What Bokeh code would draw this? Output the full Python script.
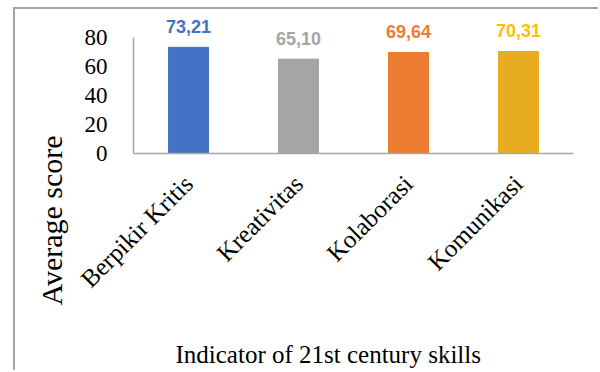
import math
from bokeh.plotting import figure
from bokeh.models import Range1d, FactorRange, FixedTicker, Title
from bokeh.core.properties import value
from bokeh.embed import file_html
from bokeh.resources import INLINE

categories = ["Berpikir Kritis", "Kreativitas", "Kolaborasi", "Komunikasi"]
scores = [73.21, 65.10, 69.64, 70.31]
score_labels = ["73,21", "65,10", "69,64", "70,31"]
bar_colors = ["#4472C4", "#A5A5A5", "#ED7D31", "#E7AC21"]
label_colors = ["#4472C4", "#A5A5A5", "#ED7D31", "#FFC000"]
y_ticks = [0, 20, 40, 60, 80]
x_title = "Indicator of 21st century skills"
y_title = "Average score"

SERIF = "Liberation Serif, Times New Roman, DejaVu Serif, serif"
NARROW = "Liberation Sans Narrow, Arial Narrow, Liberation Sans, sans-serif"

p = figure(
    width=585, height=363,
    x_range=FactorRange(factors=categories),
    y_range=Range1d(0, 99.3),
    output_backend="svg", toolbar_location=None,
    min_border_left=118, min_border_right=27,
    min_border_top=0, min_border_bottom=219,
)
p.margin = (7, 0, 0, 13)
p.styles = {"border-top": "2px solid #a3a3a3", "border-left": "2px solid #a3a3a3"}

p.vbar(x=categories, top=scores, width=0.364, color=bar_colors)
p.text(x=categories, y=scores, text=score_labels, text_color=label_colors,
       text_font=value(NARROW), text_font_style="bold",
       text_font_size="18px", text_align="center", text_baseline="alphabetic",
       y_offset=-21)

p.outline_line_color = None
p.xgrid.grid_line_color = None
p.ygrid.grid_line_color = None

ya = p.yaxis[0]
ya.ticker = FixedTicker(ticks=y_ticks)
ya.bounds = (0, 80)
ya.axis_line_color = "#a6a6a6"
ya.axis_line_width = 1.5
ya.major_tick_line_color = None
ya.minor_tick_line_color = None
ya.major_label_text_font = SERIF
ya.major_label_text_font_size = "23px"
ya.major_label_text_color = "black"
ya.major_label_standoff = 20

xa = p.xaxis[0]
xa.axis_line_color = "#a6a6a6"
xa.axis_line_width = 1.5
xa.major_tick_line_color = None
xa.minor_tick_line_color = None
xa.major_label_orientation = math.pi / 4
xa.major_label_text_font = SERIF
xa.major_label_text_font_size = "25px"
xa.major_label_text_color = "black"
xa.major_label_standoff = 20

yt = Title(text=y_title, align="left", offset=-152, standoff=28,
           text_font=SERIF, text_font_size="30px", text_font_style="normal",
           text_color="black")
p.add_layout(yt, "left")
spacer = Title(text=" ", standoff=0, text_font_size="28px")
p.add_layout(spacer, "below")
xt = Title(text=x_title, align="left", offset=42, standoff=0,
           text_font=SERIF, text_font_size="25px", text_font_style="normal",
           text_color="black")
p.add_layout(xt, "below")

open("out.html", "w").write(file_html(p, INLINE))
